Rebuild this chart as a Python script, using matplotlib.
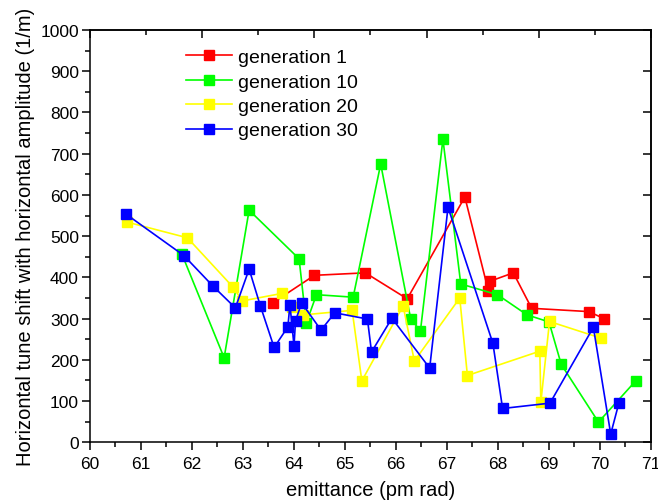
import matplotlib
matplotlib.use("Agg")
import matplotlib.pyplot as plt
from matplotlib.ticker import MultipleLocator

plt.rcParams['font.family'] = ['Liberation Sans', 'DejaVu Sans']

# ---- data ----
gen1_x = [63.58, 64.40, 65.40, 66.22, 67.35, 67.81, 67.85, 68.30, 68.66, 69.78, 70.08]
gen1_y = [338, 405, 411, 348, 595, 368, 391, 411, 325, 317, 300]

gen10_x = [61.80, 62.63, 63.12, 64.10, 64.24, 64.44, 65.16, 65.70, 66.29, 66.48,
           66.92, 67.27, 67.99, 68.57, 69.00, 69.24, 69.97, 70.70]
gen10_y = [457, 205, 563, 445, 289, 358, 352, 675, 298, 271,
           735, 384, 358, 309, 292, 189, 49, 149]

gen20_x = [60.73, 61.91, 62.80, 62.99, 63.76, 63.96, 64.18, 65.14, 65.33, 66.14,
           66.36, 67.25, 67.40, 68.82, 68.84, 69.01, 70.01]
gen20_y = [534, 496, 377, 343, 361, 327, 309, 320, 149, 331,
           197, 350, 162, 221, 97, 293, 253]

gen30_x = [60.70, 61.84, 62.41, 62.85, 63.12, 63.34, 63.61, 63.88, 63.92, 64.00,
           64.03, 64.15, 64.53, 64.80, 65.44, 65.52, 65.92, 66.66, 67.02, 67.90,
           68.09, 69.02, 69.87, 70.21, 70.37]
gen30_y = [554, 453, 379, 326, 420, 331, 230, 280, 334, 234,
           295, 338, 272, 314, 299, 219, 301, 180, 570, 240,
           82, 95, 279, 20, 95]

labels = ["generation 1", "generation 10", "generation 20", "generation 30"]
colors = ["#FF0000", "#00FF00", "#FFFF00", "#0000FF"]

fig = plt.figure(figsize=(6.58, 5.02), dpi=100)
ax = fig.add_axes([90/658, 1 - 443.3/502, (651-90)/658, (443.3-31)/502])

series = [(gen1_x, gen1_y), (gen10_x, gen10_y), (gen20_x, gen20_y), (gen30_x, gen30_y)]
for (xs, ys), lab, c in zip(series, labels, colors):
    ax.plot(xs, ys, color=c, lw=1.2, marker='s', ms=7.5, mec=c, mfc=c, label=lab)

ax.set_xlim(60, 71)
ax.set_ylim(0, 1000)
ax.xaxis.set_major_locator(MultipleLocator(1))
ax.xaxis.set_minor_locator(MultipleLocator(0.5))
ax.yaxis.set_major_locator(MultipleLocator(100))
ax.yaxis.set_minor_locator(MultipleLocator(50))
ax.tick_params(which='both', direction='out', width=1.1, labelsize=12.5)
ax.tick_params(axis='x', pad=4)
ax.tick_params(axis='y', pad=2)
ax.tick_params(which='major', length=6)
ax.tick_params(which='minor', length=3.5)
for s in ax.spines.values():
    s.set_linewidth(1.1)

# top and right axes (independent inward ticks, no labels)
top = ax.secondary_xaxis('top', functions=(lambda x: (x - 60) / 11, lambda v: 60 + v * 11))
top.xaxis.set_major_locator(MultipleLocator(0.2))
top.xaxis.set_minor_locator(MultipleLocator(0.1))
top.tick_params(which='both', direction='in', width=1.1, labeltop=False)
top.tick_params(which='major', length=6)
top.tick_params(which='minor', length=3.5)
top.spines['top'].set_linewidth(1.1)

right = ax.secondary_yaxis('right', functions=(lambda y: y / 1000, lambda v: v * 1000))
right.yaxis.set_major_locator(MultipleLocator(0.2))
right.yaxis.set_minor_locator(MultipleLocator(0.1))
right.tick_params(which='both', direction='in', width=1.1, labelright=False)
right.tick_params(which='major', length=6)
right.tick_params(which='minor', length=6)
right.spines['right'].set_linewidth(1.1)

ax.set_xlabel("emittance (pm rad)", fontsize=14.5, labelpad=6)
ax.set_ylabel("Horizontal tune shift with horizontal amplitude (1/m)", fontsize=14.5, labelpad=4)

ax.legend(loc='upper left', bbox_to_anchor=(0.171, 0.955), frameon=False,
          fontsize=14, handlelength=2.36, handletextpad=0.3, labelspacing=0.35,
          borderpad=0, borderaxespad=0)

fig.savefig("out.png", dpi=100)
